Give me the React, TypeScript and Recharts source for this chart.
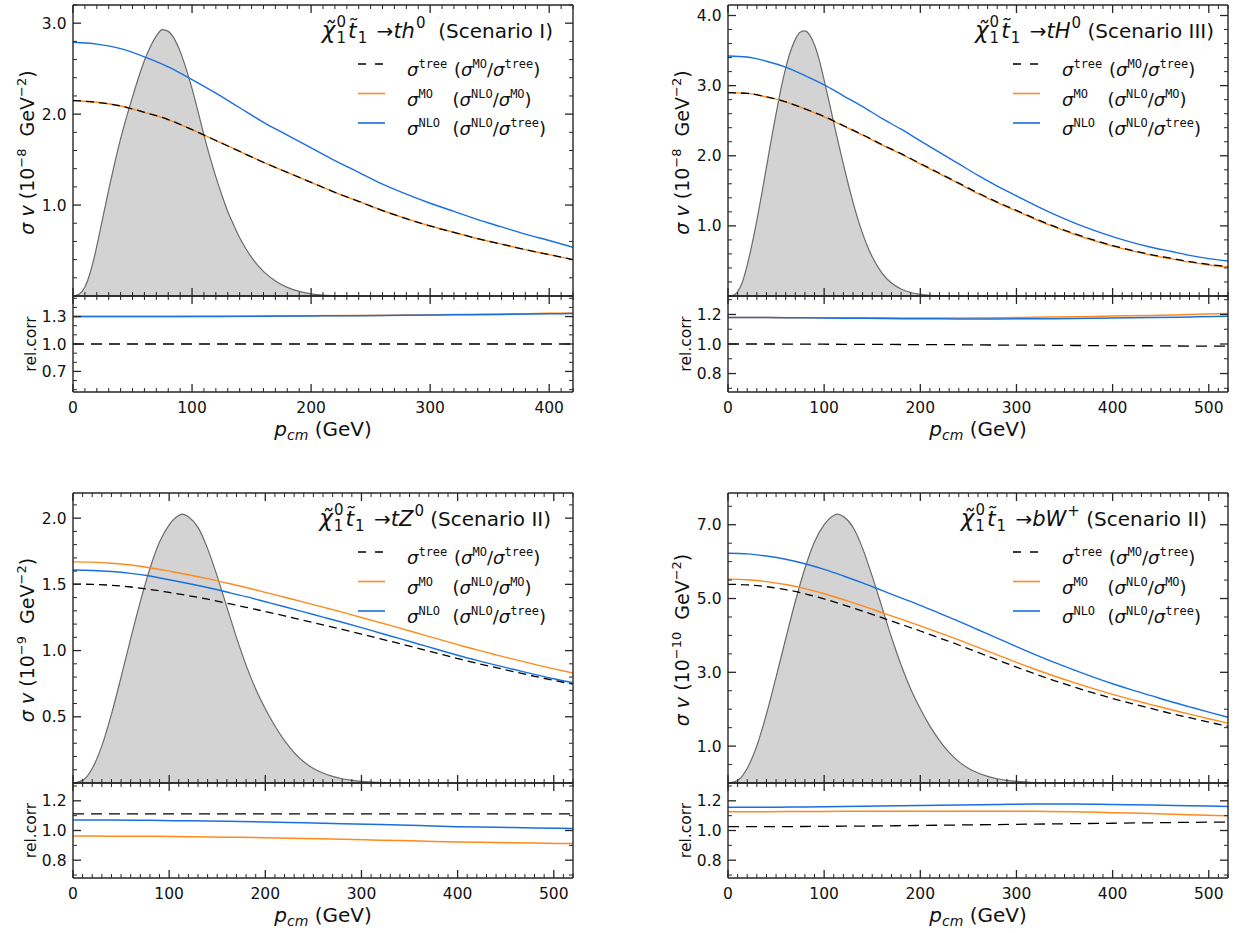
import React from 'react';
import { ComposedChart, Line, Area, XAxis, YAxis } from 'recharts';

// ---------------- data ----------------
const X20_420 = [0, 20, 40, 60, 80, 100, 120, 140, 160, 180, 200, 220, 240, 260, 280, 300, 320, 340, 360, 380, 400, 420];
const X20_520 = [0, 20, 40, 60, 80, 100, 120, 140, 160, 180, 200, 220, 240, 260, 280, 300, 320, 340, 360, 380, 400, 420, 440, 460, 480, 500, 520];
const X40_420 = [0, 40, 80, 120, 160, 200, 240, 280, 320, 360, 400, 420];
const X40_520 = [0, 40, 80, 120, 160, 200, 240, 280, 320, 360, 400, 440, 480, 520];
const PDF_X_A = [0, 5, 10, 15, 20, 25, 30, 35, 40, 45, 50, 55, 60, 65, 70, 75, 80, 85, 90, 95, 100, 105, 110, 115, 120, 125, 130, 135, 140, 145, 150, 160, 170, 180, 190, 200, 210, 220, 240];
const PDF_X_B = [0, 10, 20, 30, 40, 50, 60, 70, 80, 90, 100, 110, 114, 120, 130, 140, 150, 160, 170, 180, 190, 200, 210, 220, 230, 240, 250, 260, 270, 280, 290, 300, 320, 340];

// Panel 1: th0, Scenario I
const P1_TREE = [2.15, 2.13, 2.09, 2.02, 1.94, 1.83, 1.71, 1.59, 1.47, 1.36, 1.25, 1.14, 1.04, 0.94, 0.85, 0.77, 0.70, 0.63, 0.57, 0.51, 0.455, 0.40];
const P1_MO = [2.15, 2.13, 2.09, 2.02, 1.94, 1.83, 1.71, 1.59, 1.47, 1.36, 1.25, 1.14, 1.04, 0.94, 0.85, 0.77, 0.70, 0.63, 0.57, 0.51, 0.455, 0.40];
const P1_NLO = [2.79, 2.77, 2.72, 2.63, 2.52, 2.38, 2.23, 2.07, 1.91, 1.77, 1.63, 1.49, 1.36, 1.23, 1.12, 1.02, 0.93, 0.84, 0.76, 0.68, 0.61, 0.535];
const P1_PDF = [0, 0.02, 0.10, 0.28, 0.55, 0.86, 1.17, 1.46, 1.73, 1.97, 2.19, 2.40, 2.59, 2.74, 2.86, 2.93, 2.91, 2.83, 2.69, 2.50, 2.28, 2.03, 1.77, 1.53, 1.31, 1.11, 0.93, 0.78, 0.64, 0.525, 0.425, 0.27, 0.165, 0.095, 0.05, 0.024, 0.01, 0.004, 0];
const P1_R_MT = [1.0, 1.0, 1.0, 1.0, 1.0, 1.0, 1.0, 1.0, 1.0, 1.0, 1.0, 1.0];
const P1_R_NM = [1.300, 1.300, 1.301, 1.303, 1.305, 1.308, 1.312, 1.317, 1.322, 1.328, 1.335, 1.338];
const P1_R_NT = [1.300, 1.300, 1.301, 1.302, 1.304, 1.307, 1.310, 1.314, 1.319, 1.324, 1.330, 1.333];

// Panel 2: tH0, Scenario III
const P2_TREE = [2.90, 2.89, 2.84, 2.77, 2.67, 2.56, 2.43, 2.30, 2.16, 2.03, 1.89, 1.75, 1.61, 1.47, 1.34, 1.22, 1.10, 0.99, 0.89, 0.80, 0.72, 0.65, 0.59, 0.54, 0.49, 0.45, 0.42];
const P2_MO = [2.900, 2.890, 2.840, 2.769, 2.667, 2.556, 2.425, 2.294, 2.154, 2.023, 1.882, 1.742, 1.602, 1.461, 1.331, 1.211, 1.091, 0.981, 0.881, 0.792, 0.712, 0.643, 0.583, 0.533, 0.483, 0.443, 0.414];
const P2_NLO = [3.422, 3.409, 3.348, 3.263, 3.143, 3.011, 2.855, 2.700, 2.534, 2.379, 2.213, 2.048, 1.884, 1.720, 1.568, 1.428, 1.288, 1.160, 1.044, 0.940, 0.847, 0.765, 0.696, 0.638, 0.580, 0.533, 0.499];
const P2_PDF = [0, 0.01, 0.06, 0.20, 0.44, 0.74, 1.08, 1.45, 1.84, 2.23, 2.60, 2.95, 3.25, 3.49, 3.66, 3.76, 3.78, 3.72, 3.58, 3.36, 3.08, 2.78, 2.47, 2.17, 1.88, 1.60, 1.34, 1.10, 0.89, 0.71, 0.56, 0.33, 0.185, 0.10, 0.05, 0.023, 0.009, 0.003, 0];
const P2_R_MT = [1.000, 1.000, 0.999, 0.998, 0.997, 0.996, 0.995, 0.993, 0.992, 0.990, 0.989, 0.988, 0.986, 0.985];
const P2_R_NM = [1.180, 1.179, 1.178, 1.177, 1.177, 1.176, 1.176, 1.178, 1.181, 1.185, 1.189, 1.193, 1.200, 1.206];
const P2_R_NT = [1.180, 1.179, 1.177, 1.175, 1.173, 1.171, 1.170, 1.170, 1.171, 1.173, 1.176, 1.179, 1.183, 1.188];

// Panel 3: tZ0, Scenario II
const P3_TREE = [1.502, 1.500, 1.493, 1.480, 1.462, 1.439, 1.415, 1.388, 1.358, 1.327, 1.295, 1.262, 1.228, 1.194, 1.160, 1.124, 1.088, 1.052, 1.014, 0.977, 0.940, 0.904, 0.871, 0.838, 0.806, 0.775, 0.746];
const P3_MO = [1.670, 1.668, 1.660, 1.646, 1.626, 1.600, 1.573, 1.543, 1.510, 1.476, 1.440, 1.403, 1.366, 1.328, 1.290, 1.250, 1.210, 1.170, 1.128, 1.086, 1.045, 1.005, 0.968, 0.932, 0.896, 0.862, 0.830];
const P3_NLO = [1.608, 1.605, 1.597, 1.583, 1.563, 1.535, 1.507, 1.476, 1.442, 1.407, 1.369, 1.331, 1.292, 1.253, 1.214, 1.173, 1.131, 1.090, 1.048, 1.006, 0.965, 0.926, 0.890, 0.855, 0.820, 0.787, 0.757];
const P3_PDF = [0, 0.02, 0.11, 0.28, 0.52, 0.80, 1.09, 1.37, 1.62, 1.82, 1.95, 2.02, 2.03, 2.01, 1.93, 1.77, 1.56, 1.33, 1.10, 0.89, 0.71, 0.56, 0.43, 0.32, 0.23, 0.16, 0.11, 0.075, 0.05, 0.032, 0.02, 0.012, 0.004, 0];
const P3_R_MT = [1.112, 1.112, 1.112, 1.112, 1.112, 1.112, 1.112, 1.112, 1.112, 1.112, 1.112, 1.112, 1.112, 1.112];
const P3_R_NM = [0.963, 0.962, 0.961, 0.958, 0.955, 0.951, 0.946, 0.941, 0.935, 0.929, 0.923, 0.919, 0.915, 0.912];
const P3_R_NT = [1.071, 1.070, 1.069, 1.065, 1.062, 1.058, 1.052, 1.046, 1.040, 1.033, 1.026, 1.022, 1.017, 1.014];

// Panel 4: bW+, Scenario II
const P4_TREE = [5.385, 5.370, 5.320, 5.240, 5.130, 4.990, 4.830, 4.660, 4.480, 4.300, 4.120, 3.930, 3.740, 3.540, 3.340, 3.140, 2.950, 2.770, 2.600, 2.440, 2.290, 2.150, 2.020, 1.890, 1.770, 1.650, 1.535];
const P4_MO = [5.525, 5.510, 5.458, 5.379, 5.268, 5.130, 4.970, 4.800, 4.619, 4.440, 4.260, 4.070, 3.878, 3.676, 3.474, 3.270, 3.077, 2.893, 2.720, 2.556, 2.402, 2.259, 2.125, 1.991, 1.867, 1.742, 1.622];
const P4_NLO = [6.227, 6.210, 6.151, 6.065, 5.942, 5.789, 5.611, 5.422, 5.219, 5.017, 4.814, 4.599, 4.382, 4.154, 3.926, 3.694, 3.474, 3.262, 3.063, 2.870, 2.690, 2.523, 2.367, 2.210, 2.065, 1.921, 1.783];
const P4_PDF = [0, 0.07, 0.40, 1.01, 1.87, 2.87, 3.91, 4.92, 5.82, 6.54, 7.00, 7.25, 7.29, 7.22, 6.93, 6.36, 5.60, 4.78, 3.95, 3.20, 2.55, 2.01, 1.54, 1.15, 0.83, 0.58, 0.40, 0.27, 0.18, 0.115, 0.072, 0.043, 0.012, 0];
const P4_R_MT = [1.026, 1.026, 1.027, 1.029, 1.031, 1.034, 1.037, 1.040, 1.043, 1.046, 1.049, 1.052, 1.055, 1.057];
const P4_R_NM = [1.127, 1.127, 1.128, 1.129, 1.130, 1.130, 1.130, 1.130, 1.129, 1.126, 1.120, 1.114, 1.106, 1.099];
const P4_R_NT = [1.156, 1.156, 1.159, 1.162, 1.165, 1.168, 1.172, 1.175, 1.178, 1.178, 1.175, 1.172, 1.167, 1.162];

// tick labels
const X_MAJORS_420 = [0, 100, 200, 300, 400];
const X_MAJORS_520 = [0, 100, 200, 300, 400, 500];
const P1_Y_MAJORS = [1.0, 2.0, 3.0];
const P2_Y_MAJORS = [1.0, 2.0, 3.0, 4.0];
const P3_Y_MAJORS = [0.5, 1.0, 1.5, 2.0];
const P4_Y_MAJORS = [1.0, 3.0, 5.0, 7.0];
const R1_MAJORS = [0.7, 1.0, 1.3];
const R2_MAJORS = [0.8, 1.0, 1.2];

// ---------------- styling ----------------
const BLUE = '#1a6fe0';
const ORANGE = '#ff8a1c';
const AXC = '#262626';
const FONT = 'DejaVu Sans';
const MONO = 'DejaVu Sans Mono';

const zip = (xs: number[], ys: number[]) => xs.map((x, i) => ({ x, y: ys[i] }));
const range = (a: number, b: number, s: number) => {
  const out: number[] = [];
  for (let k = 0; a + k * s <= b + 1e-9; k++) out.push(Math.round((a + k * s) * 1000) / 1000);
  return out;
};

type Orient = 'bottom' | 'top' | 'left' | 'right';
function makeTick(orient: Orient, majors: number[], showLabel: boolean, fmt: (v: number) => string) {
  return (p: any) => {
    const { x, y, payload } = p;
    const v = payload.value as number;
    const major = majors.some((m) => Math.abs(m - v) < 1e-6);
    const L = major ? 8 : 4;
    let x2 = x;
    let y2 = y;
    if (orient === 'bottom') y2 = y - L;
    else if (orient === 'top') y2 = y + L;
    else if (orient === 'left') x2 = x + L;
    else x2 = x - L;
    let label = null;
    if (showLabel && major) {
      if (orient === 'bottom')
        label = (
          <text x={x} y={y + 21} textAnchor="middle" fontFamily={FONT} fontSize={15.5} fill="#111">
            {fmt(v)}
          </text>
        );
      else
        label = (
          <text x={x - 6.5} y={y + 5.5} textAnchor="end" fontFamily={FONT} fontSize={15.5} fill="#111">
            {fmt(v)}
          </text>
        );
    }
    return (
      <g>
        <line x1={x} y1={y} x2={x2} y2={y2} stroke={AXC} strokeWidth={major ? 1.3 : 1} />
        {label}
      </g>
    );
  };
}

const fmtX = (v: number) => String(Math.round(v));
const fmtY = (v: number) => v.toFixed(1);

type SubProps = {
  left: number;
  top: number;
  height: number;
  xMax: number;
  xMajors: number[];
  yDomain: [number, number];
  yStep: number;
  yMajors: number[];
  showXLabels: boolean;
  children: React.ReactNode;
};

function SubChart({ left, top, height, xMax, xMajors, yDomain, yStep, yMajors, showXLabels, children }: SubProps) {
  const PL = 70;
  const PR = 12;
  const PT = 8;
  const PB = showXLabels ? 32 : 8;
  const W = PL + 500 + PR;
  const H = PT + height + PB;
  const xTicks = range(0, xMax, 10);
  const first = Math.ceil(yDomain[0] / yStep - 1e-9) * yStep;
  const yTicks = range(first, yDomain[1], yStep);
  const axisLine = { stroke: AXC, strokeWidth: 1.4 };
  return (
    <div style={{ position: 'absolute', left: left - PL, top: top - PT, width: W, height: H }}>
      <ComposedChart width={W} height={H} margin={{ top: PT - 1, right: PR - 1, bottom: PB - 1, left: PL - 1 }}>
        <XAxis xAxisId="b" orientation="bottom" type="number" dataKey="x" domain={[0, xMax]} allowDataOverflow ticks={xTicks} interval={0} height={1} tickSize={0} tickMargin={0} tickLine={false} axisLine={axisLine} tick={makeTick('bottom', xMajors, showXLabels, fmtX)} />
        <XAxis xAxisId="t" orientation="top" type="number" dataKey="x" domain={[0, xMax]} allowDataOverflow ticks={xTicks} interval={0} height={1} tickSize={0} tickMargin={0} tickLine={false} axisLine={axisLine} tick={makeTick('top', xMajors, false, fmtX)} />
        <YAxis yAxisId="l" orientation="left" type="number" domain={yDomain} allowDataOverflow ticks={yTicks} interval={0} width={1} tickSize={0} tickMargin={0} tickLine={false} axisLine={axisLine} tick={makeTick('left', yMajors, true, fmtY)} />
        <YAxis yAxisId="r" orientation="right" type="number" domain={yDomain} allowDataOverflow ticks={yTicks} interval={0} width={1} tickSize={0} tickMargin={0} tickLine={false} axisLine={axisLine} tick={makeTick('right', yMajors, false, fmtY)} />
        {children}
      </ComposedChart>
    </div>
  );
}

type PanelCfg = {
  left: number;
  top: number;
  mainH: number;
  ratioH: number;
  xMax: number;
  xMajors: number[];
  mainDomain: [number, number];
  mainStep: number;
  mainMajors: number[];
  ratioDomain: [number, number];
  ratioMajors: number[];
  lineX: number[];
  tree: number[];
  mo: number[];
  nlo: number[];
  pdfX: number[];
  pdf: number[];
  rX: number[];
  rMT: number[];
  rNM: number[];
  rNT: number[];
  exp: string;
  proc: string;
  procSup: string;
  scen: string;
  titleEnd: number;
};

const PANELS: PanelCfg[] = [
  {
    left: 73, top: 5, mainH: 291, ratioH: 96, xMax: 420, xMajors: X_MAJORS_420,
    mainDomain: [0, 3.2], mainStep: 0.2, mainMajors: P1_Y_MAJORS,
    ratioDomain: [0.475, 1.525], ratioMajors: R1_MAJORS,
    lineX: X20_420, tree: P1_TREE, mo: P1_MO, nlo: P1_NLO, pdfX: PDF_X_A, pdf: P1_PDF,
    rX: X40_420, rMT: P1_R_MT, rNM: P1_R_NM, rNT: P1_R_NT,
    exp: '8', proc: 'th', procSup: '0', scen: '  (Scenario I)', titleEnd: 553,
  },
  {
    left: 728, top: 5, mainH: 291, ratioH: 96, xMax: 520, xMajors: X_MAJORS_520,
    mainDomain: [0, 4.15], mainStep: 0.2, mainMajors: P2_Y_MAJORS,
    ratioDomain: [0.675, 1.325], ratioMajors: R2_MAJORS,
    lineX: X20_520, tree: P2_TREE, mo: P2_MO, nlo: P2_NLO, pdfX: PDF_X_A, pdf: P2_PDF,
    rX: X40_520, rMT: P2_R_MT, rNM: P2_R_NM, rNT: P2_R_NT,
    exp: '8', proc: 'tH', procSup: '0', scen: ' (Scenario III)', titleEnd: 1214,
  },
  {
    left: 73, top: 493, mainH: 290, ratioH: 95, xMax: 520, xMajors: X_MAJORS_520,
    mainDomain: [0, 2.19], mainStep: 0.1, mainMajors: P3_Y_MAJORS,
    ratioDomain: [0.68, 1.32], ratioMajors: R2_MAJORS,
    lineX: X20_520, tree: P3_TREE, mo: P3_MO, nlo: P3_NLO, pdfX: PDF_X_B, pdf: P3_PDF,
    rX: X40_520, rMT: P3_R_MT, rNM: P3_R_NM, rNT: P3_R_NT,
    exp: '9', proc: 'tZ', procSup: '0', scen: ' (Scenario II)', titleEnd: 551,
  },
  {
    left: 728, top: 493, mainH: 290, ratioH: 95, xMax: 520, xMajors: X_MAJORS_520,
    mainDomain: [0, 7.86], mainStep: 0.5, mainMajors: P4_Y_MAJORS,
    ratioDomain: [0.68, 1.32], ratioMajors: R2_MAJORS,
    lineX: X20_520, tree: P4_TREE, mo: P4_MO, nlo: P4_NLO, pdfX: PDF_X_B, pdf: P4_PDF,
    rX: X40_520, rMT: P4_R_MT, rNM: P4_R_NM, rNT: P4_R_NT,
    exp: '10', proc: 'bW', procSup: '+', scen: ' (Scenario II)', titleEnd: 1207,
  },
];

function Panel({ c }: { c: PanelCfg }) {
  return (
    <>
      <SubChart left={c.left} top={c.top} height={c.mainH} xMax={c.xMax} xMajors={c.xMajors} yDomain={c.mainDomain} yStep={c.mainStep} yMajors={c.mainMajors} showXLabels={false}>
        <Area xAxisId="b" yAxisId="l" data={zip(c.pdfX, c.pdf)} dataKey="y" type="monotone" fill="#d3d3d3" fillOpacity={1} stroke="#6b6b6b" strokeWidth={1.2} dot={false} activeDot={false} isAnimationActive={false} />
        <Line xAxisId="b" yAxisId="l" data={zip(c.lineX, c.nlo)} dataKey="y" type="monotone" stroke={BLUE} strokeWidth={1.4} dot={false} activeDot={false} isAnimationActive={false} />
        <Line xAxisId="b" yAxisId="l" data={zip(c.lineX, c.mo)} dataKey="y" type="monotone" stroke={ORANGE} strokeWidth={1.4} dot={false} activeDot={false} isAnimationActive={false} />
        <Line xAxisId="b" yAxisId="l" data={zip(c.lineX, c.tree)} dataKey="y" type="monotone" stroke="#000" strokeWidth={1.3} strokeDasharray="8 5" dot={false} activeDot={false} isAnimationActive={false} />
      </SubChart>
      <SubChart left={c.left} top={c.top + c.mainH} height={c.ratioH} xMax={c.xMax} xMajors={c.xMajors} yDomain={c.ratioDomain} yStep={0.1} yMajors={c.ratioMajors} showXLabels={true}>
        <Line xAxisId="b" yAxisId="l" data={zip(c.rX, c.rMT)} dataKey="y" type="monotone" stroke="#000" strokeWidth={1.3} strokeDasharray="11 7" dot={false} activeDot={false} isAnimationActive={false} />
        <Line xAxisId="b" yAxisId="l" data={zip(c.rX, c.rNM)} dataKey="y" type="monotone" stroke={ORANGE} strokeWidth={1.5} dot={false} activeDot={false} isAnimationActive={false} />
        <Line xAxisId="b" yAxisId="l" data={zip(c.rX, c.rNT)} dataKey="y" type="monotone" stroke={BLUE} strokeWidth={1.5} dot={false} activeDot={false} isAnimationActive={false} />
      </SubChart>
    </>
  );
}

const SUP = 12;

function PanelText({ c }: { c: PanelCfg }) {
  const L = c.left;
  const T = c.top;
  const R = L + 500;
  const MB = T + c.mainH;
  const RB = MB + c.ratioH;
  const rows = [
    { y: T + 59, lab: 'tree', a: 'MO', b: 'tree', col: '#000', dash: '8 9', px: R - 119 },
    { y: T + 88.5, lab: 'MO', a: 'NLO', b: 'MO', col: ORANGE, dash: undefined, px: R - 120.5 },
    { y: T + 118, lab: 'NLO', a: 'NLO', b: 'tree', col: BLUE, dash: undefined, px: R - 120.5 },
  ];
  return (
    <g fontFamily={FONT} fill="#111">
      <text transform={`translate(${L - 39.5},${T + c.mainH / 2 + 2}) rotate(-90)`} textAnchor="middle" fontSize={19} style={{ whiteSpace: 'pre' }}>
        <tspan fontStyle="italic">σ</tspan>
        <tspan fontStyle="italic">{' v'}</tspan>
        <tspan>{' (10'}</tspan>
        <tspan dy={-8} fontSize={13}>{'−' + c.exp}</tspan>
        <tspan dy={8}>{'  GeV'}</tspan>
        <tspan dy={-8} fontSize={13}>−2</tspan>
        <tspan dy={8}>)</tspan>
      </text>
      <text transform={`translate(${L - 37},${MB + c.ratioH / 2}) rotate(-90)`} textAnchor="middle" fontSize={15.5}>
        rel.corr
      </text>
      <text x={L + 250} y={RB + 44} textAnchor="middle" fontSize={20} style={{ whiteSpace: 'pre' }}>
        <tspan fontStyle="italic">p</tspan>
        <tspan fontStyle="italic" fontSize={14} dy={4}>cm</tspan>
        <tspan dy={-4}>{' (GeV)'}</tspan>
      </text>
      <text x={c.titleEnd} y={T + 33} textAnchor="end" fontSize={20} style={{ whiteSpace: 'pre' }}>
        <tspan fontStyle="italic" fontSize={23}>χ̃</tspan>
        <tspan fontSize={15} dx={1} dy={5}>1</tspan>
        <tspan fontSize={15} dx={-9.5} dy={-16}>0</tspan>
        <tspan fontStyle="italic" fontSize={22} dx={2} dy={11}>t̃</tspan>
        <tspan fontSize={15} dx={1} dy={5}>1</tspan>
        <tspan dx={3} dy={-5}>{' →'}</tspan>
        <tspan fontStyle="italic" fontSize={21}>{c.proc}</tspan>
        <tspan fontSize={15} dx={1} dy={-10}>{c.procSup}</tspan>
        <tspan dy={10}>{c.scen}</tspan>
      </text>
      {rows.map((r, i) => (
        <g key={i}>
          <line x1={R - 215} x2={R - 188} y1={r.y} y2={r.y} stroke={r.col} strokeWidth={1.6} strokeDasharray={r.dash} />
          <text x={R - 166} y={r.y + 12} fontSize={18}>
            <tspan fontStyle="italic">σ</tspan>
            <tspan fontFamily={MONO} fontSize={SUP} dy={-8}>{r.lab}</tspan>
          </text>
          <text x={r.px} y={r.y + 12} fontSize={18}>
            <tspan>(</tspan>
            <tspan fontStyle="italic">σ</tspan>
            <tspan fontFamily={MONO} fontSize={SUP} dy={-8}>{r.a}</tspan>
            <tspan dy={8}>/</tspan>
            <tspan fontStyle="italic">σ</tspan>
            <tspan fontFamily={MONO} fontSize={SUP} dy={-8}>{r.b}</tspan>
            <tspan dy={8}>)</tspan>
          </text>
        </g>
      ))}
    </g>
  );
}

export default function App() {
  return (
    <div style={{ position: 'absolute', left: 0, top: 0, width: 1237, height: 933, background: '#fff', overflow: 'hidden' }}>
      {PANELS.map((c, i) => (
        <Panel key={i} c={c} />
      ))}
      <svg width={1237} height={933} style={{ position: 'absolute', left: 0, top: 0, pointerEvents: 'none' }}>
        {PANELS.map((c, i) => (
          <PanelText key={i} c={c} />
        ))}
      </svg>
    </div>
  );
}
